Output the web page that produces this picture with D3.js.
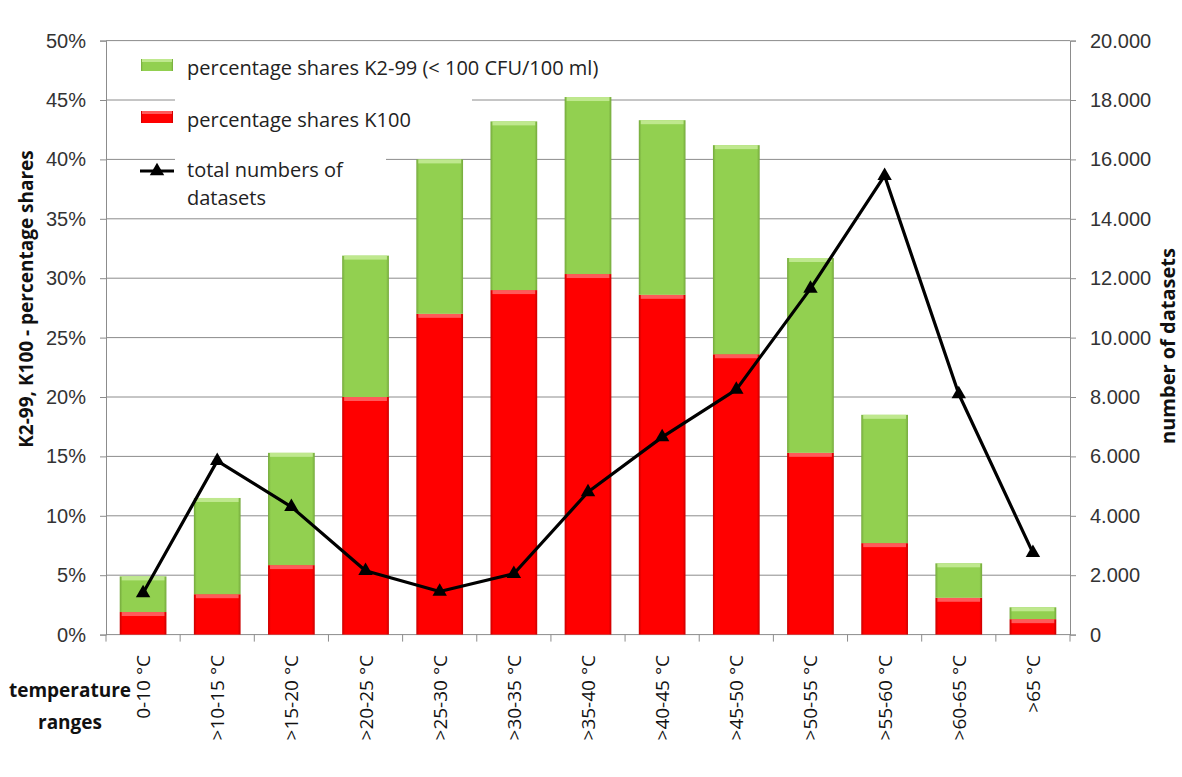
<!DOCTYPE html>
<html>
<head>
<meta charset="utf-8">
<script src="https://cdn.jsdelivr.net/npm/d3@7"></script>
<style>
  body { margin: 0; background: #fff; }
  svg { display: block; font-family: "Open Sans", sans-serif; }
</style>
</head>
<body>
<svg id="chart" width="1182" height="777"></svg>
<script>
const categories = ["0-10 °C", ">10-15 °C", ">15-20 °C", ">20-25 °C", ">25-30 °C", ">30-35 °C", ">35-40 °C",
                    ">40-45 °C", ">45-50 °C", ">50-55 °C", ">55-60 °C", ">60-65 °C", ">65 °C"];
// percentage shares (fraction of datasets)
const shareK100  = [0.019, 0.034, 0.0585, 0.200, 0.270, 0.290, 0.3035, 0.286, 0.236, 0.153, 0.077, 0.031, 0.013];
const shareTotal = [0.049, 0.115, 0.153, 0.319, 0.400, 0.432, 0.4525, 0.433, 0.412, 0.317, 0.185, 0.060, 0.023];
// total number of datasets per range
const datasets = [1400, 5850, 4300, 2150, 1450, 2050, 4800, 6650, 8250, 11650, 15450, 8100, 2750];
const leftTicks = [0, 0.05, 0.10, 0.15, 0.20, 0.25, 0.30, 0.35, 0.40, 0.45, 0.50];
const rightTicks = [0, 2000, 4000, 6000, 8000, 10000, 12000, 14000, 16000, 18000, 20000];

const svg = d3.select("#chart");
const X0 = 106, X1 = 1070, Y0 = 634.6, Y1 = 40.6;

const x = d3.scaleBand().domain(categories).range([X0, X1]).paddingInner(0.37).paddingOuter(0.185);
const xStep = d3.scaleBand().domain(categories).range([X0, X1]);
const yL = d3.scaleLinear().domain([0, 0.5]).range([Y0, Y1]);
const yR = d3.scaleLinear().domain([0, 20000]).range([Y0, Y1]);

const deFmt = d3.formatLocale({ decimal: ",", thousands: ".", grouping: [3], currency: ["", ""] }).format(",");

// gradients for the bevelled bars
const defs = svg.append("defs");
function bevel(id, edge, mid) {
  const g = defs.append("linearGradient").attr("id", id).attr("x1", 0).attr("x2", 1).attr("y1", 0).attr("y2", 0);
  g.append("stop").attr("offset", "0%").attr("stop-color", edge);
  g.append("stop").attr("offset", "6%").attr("stop-color", mid);
  g.append("stop").attr("offset", "94%").attr("stop-color", mid);
  g.append("stop").attr("offset", "100%").attr("stop-color", edge);
}
bevel("gRed", "#c80000", "#ff0000");
bevel("gGreen", "#74a83c", "#92d050");

// gridlines
svg.append("g")
  .selectAll("line")
  .data(leftTicks.slice(1))
  .join("line")
  .attr("x1", X0).attr("x2", X1)
  .attr("y1", d => yL(d)).attr("y2", d => yL(d))
  .attr("stroke", "#8c8c8c").attr("stroke-width", 1);

// legend white boxes hiding gridlines
const legendBg = svg.append("g");
legendBg.append("rect").attr("x", 175).attr("y", 90).attr("width", 297).attr("height", 45).attr("fill", "#fff");
legendBg.append("rect").attr("x", 175).attr("y", 150).attr("width", 211).attr("height", 62).attr("fill", "#fff");

// left axis
const axL = svg.append("g").attr("transform", `translate(${X0},0)`)
  .call(d3.axisLeft(yL).tickValues(leftTicks).tickFormat(d3.format(".0%")).tickSize(6).tickPadding(14));
axL.selectAll("text").attr("font-size", 20).attr("fill", "#333");
axL.selectAll("line, path").attr("stroke", "#8c8c8c");

// right axis
const axR = svg.append("g").attr("transform", `translate(${X1},0)`)
  .call(d3.axisRight(yR).tickValues(rightTicks).tickFormat(deFmt).tickSize(6).tickPadding(14));
axR.selectAll("text").attr("font-size", 20).attr("fill", "#333");
axR.selectAll("line, path").attr("stroke", "#8c8c8c");

// bottom axis line and boundary ticks
svg.append("line").attr("x1", X0).attr("x2", X1).attr("y1", Y0).attr("y2", Y0).attr("stroke", "#8c8c8c");
svg.append("g").selectAll("line")
  .data(categories.concat(["end"]))
  .join("line")
  .attr("x1", (d, i) => X0 + i * xStep.step()).attr("x2", (d, i) => X0 + i * xStep.step())
  .attr("y1", Y0).attr("y2", Y0 + 7)
  .attr("stroke", "#8c8c8c");

// stacked bars
const bars = svg.append("g");
categories.forEach((c, i) => {
  const bx = x(c), bw = x.bandwidth();
  // red (K100)
  bars.append("rect").attr("x", bx).attr("width", bw)
    .attr("y", yL(shareK100[i])).attr("height", Y0 - yL(shareK100[i]))
    .attr("fill", "url(#gRed)");
  bars.append("rect").attr("x", bx + 2).attr("width", bw - 4)
    .attr("y", yL(shareK100[i])).attr("height", 4)
    .attr("fill", "#ff5a5a");
  // green (K2-99)
  bars.append("rect").attr("x", bx).attr("width", bw)
    .attr("y", yL(shareTotal[i])).attr("height", yL(shareK100[i]) - yL(shareTotal[i]))
    .attr("fill", "url(#gGreen)");
  bars.append("rect").attr("x", bx + 2).attr("width", bw - 4)
    .attr("y", yL(shareTotal[i])).attr("height", 4)
    .attr("fill", "#bfe88e");
});

// line of total datasets
const cx = c => x(c) + x.bandwidth() / 2;
svg.append("path")
  .datum(datasets)
  .attr("d", d3.line().x((d, i) => cx(categories[i])).y(d => yR(d)))
  .attr("fill", "none").attr("stroke", "#000").attr("stroke-width", 3.2).attr("stroke-linejoin", "round");
const tri = d3.symbol().type(d3.symbolTriangle).size(90);
svg.append("g").selectAll("path")
  .data(datasets)
  .join("path")
  .attr("d", tri)
  .attr("transform", (d, i) => `translate(${cx(categories[i])},${yR(d)})`)
  .attr("fill", "#000");

// x category labels (rotated)
svg.append("g").selectAll("text")
  .data(categories)
  .join("text")
  .attr("transform", d => `translate(${cx(d) + 7},655) rotate(-90)`)
  .attr("text-anchor", "end")
  .attr("font-size", 19).attr("fill", "#111")
  .text(d => d);

// x axis title
const xt = svg.append("text").attr("text-anchor", "middle").attr("font-size", 19).attr("font-weight", "bold").attr("fill", "#111");
xt.append("tspan").attr("x", 70).attr("y", 697).text("temperature");
xt.append("tspan").attr("x", 70).attr("y", 729).text("ranges");

// y axis titles
svg.append("text")
  .attr("transform", "translate(33,299) rotate(-90)")
  .attr("text-anchor", "middle").attr("font-size", 19).attr("font-weight", "bold").attr("fill", "#111")
  .text("K2-99, K100 - percentage shares");
svg.append("text")
  .attr("transform", "translate(1175,346) rotate(-90)")
  .attr("text-anchor", "middle").attr("font-size", 20).attr("font-weight", "bold").attr("fill", "#111")
  .text("number of datasets");

// legend
const lg = svg.append("g");
lg.append("rect").attr("x", 141).attr("y", 59).attr("width", 32).attr("height", 12).attr("fill", "url(#gGreen)");
lg.append("rect").attr("x", 142).attr("y", 59).attr("width", 30).attr("height", 3).attr("fill", "#bfe88e");
lg.append("rect").attr("x", 141).attr("y", 111).attr("width", 32).attr("height", 12).attr("fill", "url(#gRed)");
lg.append("rect").attr("x", 142).attr("y", 111).attr("width", 30).attr("height", 3).attr("fill", "#ff5a5a");
lg.append("line").attr("x1", 140).attr("x2", 174).attr("y1", 171).attr("y2", 171).attr("stroke", "#000").attr("stroke-width", 3.2);
lg.append("path").attr("d", tri).attr("transform", "translate(157,171)").attr("fill", "#000");
const legendText = [
  { y: 75, lines: ["percentage shares K2-99 (< 100 CFU/100 ml)"] },
  { y: 127, lines: ["percentage shares K100"] },
  { y: 177, lines: ["total numbers of", "datasets"] }
];
legendText.forEach(e => {
  const t = lg.append("text").attr("font-size", 20).attr("fill", "#222");
  e.lines.forEach((l, j) => t.append("tspan").attr("x", 187).attr("y", e.y + j * 28).text(l));
});
</script>
</body>
</html>
